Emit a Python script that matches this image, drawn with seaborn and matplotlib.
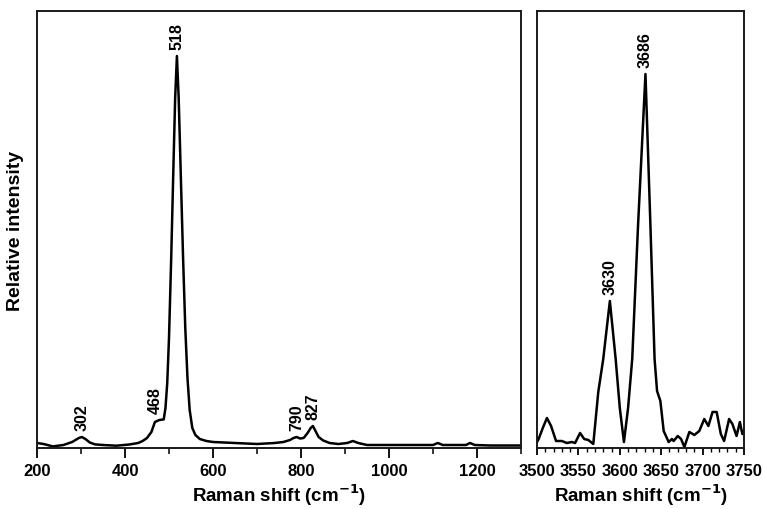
import numpy as np
import pandas as pd
import matplotlib
matplotlib.use("Agg")
import matplotlib.pyplot as plt
from matplotlib.ticker import MultipleLocator
import seaborn as sns

# ---- data ----
low_shift = [200, 215, 236, 260, 280, 295, 302, 310, 320, 332, 350, 380, 410, 430, 440,
             450, 460, 468, 478, 488, 492, 496, 500, 505, 510, 514, 518, 522, 527, 532,
             537, 542, 547, 553, 560, 570, 585, 600, 650, 700, 740, 760, 775, 783, 790,
             798, 806, 815, 822, 827, 833, 840, 850, 865, 885, 905, 918, 930, 950, 1000,
             1050, 1100, 1111, 1122, 1150, 1175, 1184, 1195, 1230, 1270, 1300]
low_int = [5, 4, 1.6, 3, 6, 10, 11, 9, 5.5, 3.6, 3, 2.3, 3.5, 5, 7,
           10, 16, 26, 28, 28.6, 40, 65, 110, 190, 280, 350, 392, 350, 270, 190,
           120, 70, 38, 20, 13, 9, 7, 6, 5, 4, 5, 6, 8, 10, 11,
           9.5, 10, 15, 20, 22, 17, 11, 7.6, 5, 4, 5, 7, 5, 3, 3,
           3, 3, 5, 3, 3, 3, 5, 3, 2.5, 2.5, 2.5]
low_peaks = [302, 468, 518, 790, 827]
low_peak_labels = ["302", "468", "518", "790", "827"]
low_peak_heights = [11, 28, 392, 11, 22]

high_shift = [3500, 3502, 3507, 3512, 3517, 3523, 3530, 3536, 3542, 3546, 3552, 3557, 3562,
              3568, 3574, 3580, 3588, 3595, 3600, 3605, 3610, 3615, 3622, 3631, 3637, 3642,
              3645, 3649, 3653, 3659, 3663, 3665, 3670, 3674, 3678, 3684, 3690, 3696, 3702,
              3707, 3712, 3717, 3722, 3726, 3732, 3736, 3741, 3745, 3748, 3750]
high_int = [6, 9, 20, 30, 22, 7, 7, 5, 6, 5, 15, 9, 8,
            4, 56, 89, 147, 89, 40, 6, 40, 89, 222, 374, 222, 89,
            57, 47, 17, 6, 9, 7, 12, 9, 1, 16, 13, 17, 29,
            22, 36, 36, 14, 7, 29, 24, 12, 26, 14, 17]
high_peaks = [3588, 3631]
high_peak_labels = ["3630", "3686"]
high_peak_heights = [147, 374]

low_df = pd.DataFrame({"shift": low_shift, "intensity": low_int})
high_df = pd.DataFrame({"shift": high_shift, "intensity": high_int})

# ---- style ----
sns.set_style("ticks")
plt.rcParams["font.family"] = ["Liberation Sans", "DejaVu Sans"]
plt.rcParams["font.weight"] = "bold"
plt.rcParams["text.color"] = "black"
plt.rcParams["axes.labelcolor"] = "black"
plt.rcParams["xtick.color"] = "black"
plt.rcParams["ytick.color"] = "black"

W, H = 763, 510
fig = plt.figure(figsize=(W / 100, H / 100), dpi=100)
ax1 = fig.add_axes([37 / W, (H - 449) / H, (521 - 37) / W, (449 - 12) / H])
ax2 = fig.add_axes([537 / W, (H - 449) / H, (744 - 537) / W, (449 - 12) / H])

sns.lineplot(data=low_df, x="shift", y="intensity", ax=ax1, color="black",
             linewidth=1.8, sort=True, estimator=None)
sns.lineplot(data=high_df, x="shift", y="intensity", ax=ax2, color="black",
             linewidth=1.8, sort=True, estimator=None)

ax1.set_xlim(200, 1300)
ax1.set_ylim(0, 437)
ax2.set_xlim(3500, 3750)
ax2.set_ylim(0, 437)

for ax in (ax1, ax2):
    for sp in ax.spines.values():
        sp.set_visible(True)
        sp.set_linewidth(1.4)
        sp.set_color("#1a1a1a")
    ax.set_yticks([])
    ax.set_ylabel("")
    ax.set_xlabel("Raman shift (cm$^{\\mathbf{-1}}$)", fontsize=13.5, fontweight="bold",
                  labelpad=2, color="black")

ax1.xaxis.set_major_locator(MultipleLocator(200))
ax1.xaxis.set_minor_locator(MultipleLocator(100))
ax1.tick_params(axis="x", which="major", direction="out", length=7, width=1.3,
                labelsize=12, pad=4, colors="black")
ax1.tick_params(axis="x", which="minor", direction="out", length=4, width=1.1)

ax2.xaxis.set_major_locator(MultipleLocator(50))
ax2.xaxis.set_minor_locator(MultipleLocator(10))
ax2.tick_params(axis="x", which="major", direction="out", length=5, width=1.3,
                labelsize=12, pad=6, colors="black")
ax2.tick_params(axis="x", which="minor", direction="out", length=3, width=1.0)

for ax in (ax1, ax2):
    for lab in ax.get_xticklabels():
        lab.set_fontweight("bold")

ax1.set_ylabel("Relative intensity", fontsize=14, fontweight="bold", labelpad=9,
               color="black")

for xs, lbl, hh in zip(low_peaks, low_peak_labels, low_peak_heights):
    ax1.annotate(lbl, xy=(xs, hh), xytext=(0, 5), textcoords="offset points",
                 rotation=90, ha="center", va="bottom", fontsize=11.5,
                 fontweight="bold", color="black")
for xs, lbl, hh in zip(high_peaks, high_peak_labels, high_peak_heights):
    ax2.annotate(lbl, xy=(xs, hh), xytext=(0, 5), textcoords="offset points",
                 rotation=90, ha="center", va="bottom", fontsize=11.5,
                 fontweight="bold", color="black")

fig.savefig("out.png", dpi=100)
